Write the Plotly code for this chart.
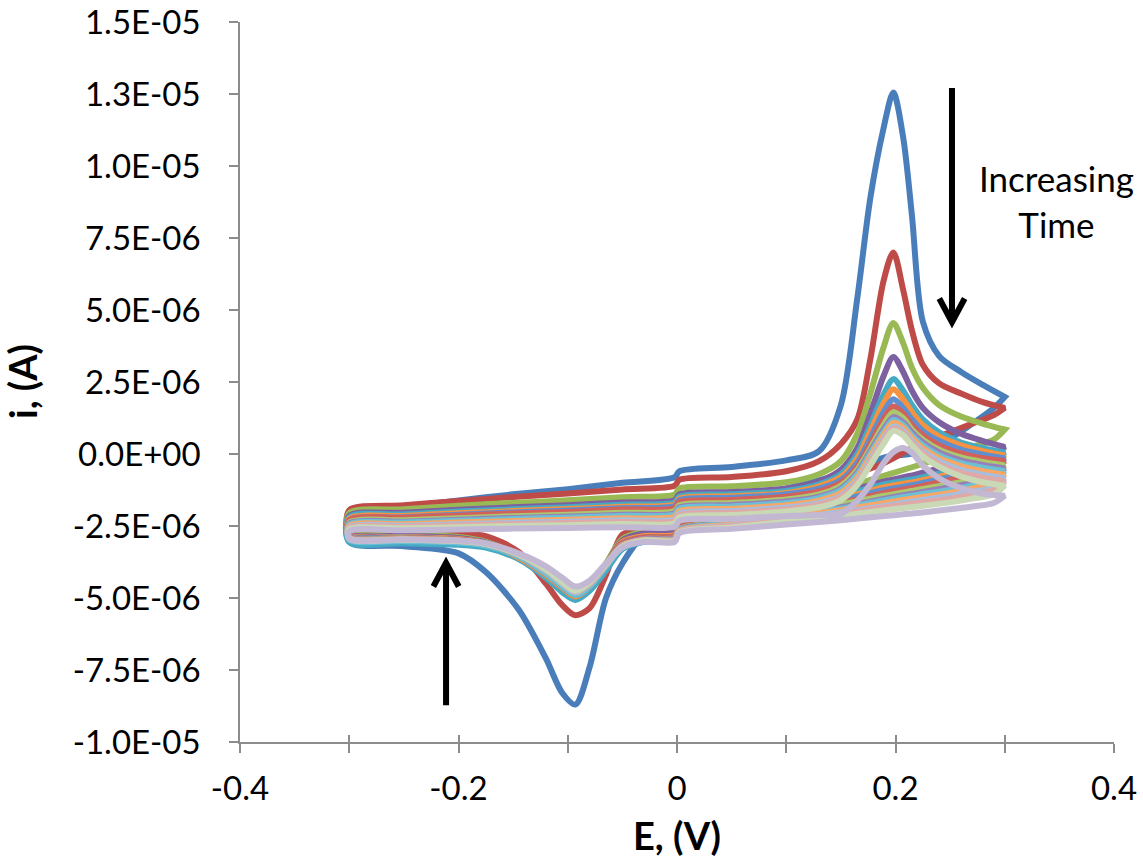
import plotly.graph_objects as go

# ---------------------------------------------------------------------------
# Cyclic voltammograms: potential grids (V) and currents (uA) for each cycle
# ---------------------------------------------------------------------------
E_FWD = [-0.30, -0.25, -0.20, -0.15, -0.10, -0.05, -0.002, 0.002, 0.05, 0.10, 0.13,
         0.15, 0.165, 0.177, 0.189, 0.198, 0.207, 0.215, 0.225, 0.24, 0.26, 0.28, 0.30]
E_REV = [0.30, 0.29, 0.27, 0.25, 0.22, 0.19, 0.15, 0.10, 0.05, 0.002, -0.002, -0.03,
         -0.05, -0.065, -0.08, -0.093, -0.105, -0.12, -0.145, -0.175, -0.20, -0.25, -0.30]

cycle01_fwd = [-2.1, -1.84, -1.61, -1.4, -1.22, -1.0, -0.8, -0.6, -0.45, -0.22, 0.1, 1.7,
               5.4, 8.9, 11.3, 12.55, 11.0, 8.3, 4.6, 3.4, 2.85, 2.4, 1.98]
cycle01_rev = [1.98, 1.6, 1.05, 0.55, 0.05, -0.12, -0.7, -1.2, -1.6, -1.95, -2.25, -2.8,
               -3.8, -5.0, -7.4, -8.7, -8.3, -7.1, -5.4, -4.1, -3.45, -3.2, -3.05]
cycle02_fwd = [-1.95, -1.78, -1.63, -1.49, -1.37, -1.23, -1.1, -0.9, -0.8, -0.6, -0.25, 0.35,
               1.2, 3.3, 6.0, 7.0, 5.7, 4.3, 3.1, 2.45, 2.1, 1.8, 1.6]
cycle02_rev = [1.6, 1.35, 1.05, 0.75, 0.3, -0.3, -0.85, -1.35, -1.75, -2.1, -2.4, -2.62,
               -2.8, -4.2, -5.35, -5.6, -5.25, -4.5, -3.4, -2.85, -2.78, -2.72, -2.65]
cycle03_fwd = [-2.05, -1.92, -1.8, -1.7, -1.61, -1.5, -1.4, -1.2, -1.12, -0.98, -0.7, -0.25,
               0.7, 2.1, 3.7, 4.55, 3.85, 3.0, 2.3, 1.7, 1.3, 1.05, 0.85]
cycle03_rev = [0.85, 0.5, 0.25, 0.0, -0.4, -0.75, -1.2, -1.6, -1.95, -2.3, -2.6, -2.7,
               -2.95, -3.8, -4.6, -5.0, -4.7, -4.2, -3.55, -3.05, -2.88, -2.8, -2.72]
cycle04_fwd = [-2.15, -2.04, -1.94, -1.85, -1.78, -1.68, -1.6, -1.4, -1.32, -1.2, -0.95, -0.55,
               0.2, 1.4, 2.7, 3.37, 2.85, 2.2, 1.6, 1.1, 0.7, 0.45, 0.25]
cycle04_rev = [0.25, -0.05, -0.25, -0.4, -0.7, -0.95, -1.35, -1.75, -2.1, -2.4, -2.7, -2.75,
               -3.0, -3.85, -4.6, -4.95, -4.65, -4.2, -3.55, -3.08, -2.92, -2.84, -2.76]
cycle05_fwd = [-2.2, -2.1, -2.0, -1.92, -1.85, -1.76, -1.68, -1.48, -1.4, -1.28, -1.05, -0.7,
               0.0, 1.0, 2.05, 2.6, 2.2, 1.7, 1.2, 0.75, 0.4, 0.2, 0.05]
cycle05_rev = [0.05, -0.25, -0.45, -0.6, -0.85, -1.05, -1.45, -1.85, -2.2, -2.5, -2.95, -3.05,
               -3.3, -4.05, -4.75, -5.07, -4.8, -4.3, -3.65, -3.25, -3.15, -3.1, -3.05]
cycle06_fwd = [-2.25, -2.15, -2.06, -1.98, -1.91, -1.83, -1.75, -1.55, -1.47, -1.35, -1.12, -0.8,
               -0.15, 0.8, 1.75, 2.25, 1.9, 1.45, 1.0, 0.6, 0.3, 0.1, -0.05]
cycle06_rev = [-0.05, -0.35, -0.55, -0.7, -0.95, -1.15, -1.55, -1.9, -2.2, -2.5, -2.8, -2.85,
               -3.05, -3.85, -4.6, -4.95, -4.65, -4.2, -3.6, -3.1, -2.95, -2.88, -2.8]
cycle07_fwd = [-2.3, -2.2, -2.11, -2.03, -1.96, -1.88, -1.8, -1.6, -1.52, -1.4, -1.2, -0.9,
               -0.3, 0.55, 1.45, 1.9, 1.6, 1.2, 0.8, 0.45, 0.15, -0.02, -0.15]
cycle07_rev = [-0.15, -0.45, -0.65, -0.8, -1.05, -1.25, -1.6, -1.95, -2.25, -2.55, -2.85, -2.9,
               -3.1, -3.85, -4.6, -4.9, -4.6, -4.15, -3.55, -3.12, -2.98, -2.9, -2.82]
cycle08_fwd = [-2.3, -2.21, -2.14, -2.07, -2.01, -1.93, -1.87, -1.67, -1.6, -1.48, -1.3, -1.0,
               -0.45, 0.35, 1.2, 1.65, 1.4, 1.0, 0.65, 0.3, 0.02, -0.15, -0.25]
cycle08_rev = [-0.25, -0.55, -0.75, -0.9, -1.15, -1.35, -1.7, -2.0, -2.3, -2.55, -2.85, -2.9,
               -3.1, -3.85, -4.58, -4.9, -4.6, -4.15, -3.55, -3.12, -2.98, -2.92, -2.85]
cycle09_fwd = [-2.38, -2.3, -2.23, -2.16, -2.11, -2.04, -1.98, -1.78, -1.7, -1.58, -1.4, -1.1,
               -0.55, 0.2, 1.0, 1.45, 1.25, 0.85, 0.5, 0.15, -0.12, -0.28, -0.4]
cycle09_rev = [-0.4, -0.7, -0.9, -1.05, -1.25, -1.45, -1.75, -2.05, -2.35, -2.6, -2.9, -2.95,
               -3.15, -3.85, -4.55, -4.85, -4.55, -4.1, -3.55, -3.13, -3.0, -2.93, -2.87]
cycle10_fwd = [-2.42, -2.35, -2.28, -2.22, -2.17, -2.11, -2.05, -1.85, -1.77, -1.65, -1.48, -1.2,
               -0.65, 0.1, 0.85, 1.28, 1.1, 0.75, 0.4, 0.05, -0.22, -0.38, -0.5]
cycle10_rev = [-0.5, -0.8, -1.0, -1.15, -1.35, -1.55, -1.85, -2.1, -2.38, -2.62, -2.92, -2.95,
               -3.15, -3.85, -4.55, -4.85, -4.55, -4.1, -3.52, -3.12, -3.0, -2.94, -2.88]
cycle11_fwd = [-2.45, -2.38, -2.32, -2.26, -2.21, -2.15, -2.1, -1.9, -1.82, -1.7, -1.53, -1.25,
               -0.72, 0.02, 0.75, 1.18, 1.0, 0.65, 0.3, -0.05, -0.32, -0.48, -0.6]
cycle11_rev = [-0.6, -0.9, -1.1, -1.25, -1.42, -1.6, -1.9, -2.15, -2.4, -2.65, -2.95, -3.0,
               -3.2, -3.9, -4.6, -4.9, -4.6, -4.15, -3.55, -3.18, -3.08, -3.02, -2.97]
cycle12_fwd = [-2.5, -2.44, -2.38, -2.33, -2.28, -2.23, -2.18, -1.98, -1.9, -1.78, -1.62, -1.35,
               -0.82, -0.08, 0.65, 1.08, 0.92, 0.55, 0.2, -0.15, -0.42, -0.6, -0.72]
cycle12_rev = [-0.72, -1.0, -1.2, -1.35, -1.52, -1.7, -1.95, -2.2, -2.45, -2.67, -2.97, -2.98,
               -3.18, -3.85, -4.52, -4.8, -4.5, -4.05, -3.5, -3.12, -3.0, -2.95, -2.9]
cycle13_fwd = [-2.55, -2.49, -2.44, -2.39, -2.35, -2.3, -2.26, -2.06, -1.98, -1.86, -1.7, -1.45,
               -0.92, -0.2, 0.52, 0.95, 0.8, 0.45, 0.1, -0.25, -0.55, -0.72, -0.85]
cycle13_rev = [-0.85, -1.15, -1.32, -1.45, -1.62, -1.8, -2.02, -2.25, -2.48, -2.7, -3.0, -3.0,
               -3.2, -3.85, -4.5, -4.8, -4.5, -4.05, -3.5, -3.12, -3.02, -2.97, -2.92]
cycle14_fwd = [-2.58, -2.53, -2.48, -2.44, -2.4, -2.36, -2.32, -2.12, -2.04, -1.92, -1.76, -1.5,
               -0.98, -0.28, 0.45, 0.88, 0.72, 0.38, 0.02, -0.35, -0.65, -0.82, -0.95]
cycle14_rev = [-0.95, -1.25, -1.42, -1.55, -1.7, -1.85, -2.08, -2.3, -2.5, -2.7, -3.0, -3.0,
               -3.2, -3.85, -4.48, -4.75, -4.45, -4.02, -3.48, -3.12, -3.02, -2.97, -2.93]
cycle15_fwd = [-2.62, -2.58, -2.54, -2.5, -2.47, -2.43, -2.4, -2.2, -2.12, -2.0, -1.85, -1.6,
               -1.08, -0.38, 0.35, 0.8, 0.65, 0.3, -0.08, -0.45, -0.78, -0.98, -1.1]
cycle15_rev = [-1.1, -1.4, -1.55, -1.68, -1.82, -1.95, -2.15, -2.35, -2.55, -2.72, -3.02, -3.0,
               -3.22, -3.82, -4.45, -4.75, -4.45, -4.0, -3.48, -3.12, -3.02, -2.98, -2.94]
cycle16_fwd = [-2.68, -2.65, -2.62, -2.59, -2.57, -2.54, -2.52, -2.32, -2.25, -2.15, -2.12, -2.08,
               -1.62, -1.05, -0.32, 0.07, 0.21, 0.05, -0.4, -0.85, -1.18, -1.38, -1.45]
cycle16_rev = [-1.45, -1.7, -1.82, -1.92, -2.05, -2.15, -2.3, -2.45, -2.6, -2.75, -3.05, -3.05,
               -3.25, -3.8, -4.4, -4.6, -4.3, -3.9, -3.45, -3.1, -3.0, -2.97, -2.95]

CYCLES = [
    (cycle01_fwd, cycle01_rev), (cycle02_fwd, cycle02_rev), (cycle03_fwd, cycle03_rev),
    (cycle04_fwd, cycle04_rev), (cycle05_fwd, cycle05_rev), (cycle06_fwd, cycle06_rev),
    (cycle07_fwd, cycle07_rev), (cycle08_fwd, cycle08_rev), (cycle09_fwd, cycle09_rev),
    (cycle10_fwd, cycle10_rev), (cycle11_fwd, cycle11_rev), (cycle12_fwd, cycle12_rev),
    (cycle13_fwd, cycle13_rev), (cycle14_fwd, cycle14_rev), (cycle15_fwd, cycle15_rev),
    (cycle16_fwd, cycle16_rev),
]

# Axis ticks
X_TICKS = [-0.4, -0.2, 0.0, 0.2, 0.4]
X_TICK_TEXT = ["-0.4", "-0.2", "0", "0.2", "0.4"]
X_MINOR_TICKS = [-0.4, -0.3, -0.2, -0.1, 0.0, 0.1, 0.2, 0.3, 0.4]
Y_TICKS = [-1.0e-05, -7.5e-06, -5.0e-06, -2.5e-06, 0.0, 2.5e-06, 5.0e-06, 7.5e-06,
           1.0e-05, 1.25e-05, 1.5e-05]
Y_TICK_TEXT = ["-1.0E-05", "-7.5E-06", "-5.0E-06", "-2.5E-06", "0.0E+00", "2.5E-06",
               "5.0E-06", "7.5E-06", "1.0E-05", "1.3E-05", "1.5E-05"]

# ---------------------------------------------------------------------------
# Styling
# ---------------------------------------------------------------------------
COLORS = ["#4A7EBB", "#BE4B48", "#98B954", "#7D60A0", "#46AAC5", "#F69240",
          "#5F8FCE", "#D2605B", "#ABC86E", "#9780B8", "#6CC0D6", "#F8A766",
          "#A7BFDF", "#DFA9A7", "#C9D9B5", "#C2B8D4"]
FONT = "Lato, 'Open Sans', sans-serif"
AXIS_GREY = "#8C8C8C"
UA = 1e-6  # microamp -> amp

fig = go.Figure()
for (fwd, rev), color in zip(CYCLES, COLORS):
    xs = E_FWD + E_REV + [E_FWD[0]]
    ys = [v * UA for v in fwd + rev + [fwd[0]]]
    fig.add_trace(go.Scatter(
        x=xs, y=ys, mode="lines",
        line=dict(color=color, width=6, shape="spline", smoothing=0.85),
        showlegend=False, hoverinfo="skip",
    ))

# invisible trace carrying the upper half of the crossing x ticks
fig.add_trace(go.Scatter(x=[None], y=[None], xaxis="x2", showlegend=False))


def arrow_shapes(x, y_tail, y_tip, arm_dx, arm_dy):
    """Line shapes for a thick vertical arrow with an open chevron head."""
    sgn = 1 if y_tip > y_tail else -1
    style = dict(color="black", width=6)
    path = (f"M {x - arm_dx:.6f},{y_tip - sgn * arm_dy:.12f} "
            f"L {x:.6f},{y_tip:.12f} "
            f"L {x + arm_dx:.6f},{y_tip - sgn * arm_dy:.12f}")
    return [
        dict(type="line", xref="x", yref="y", x0=x, x1=x, y0=y_tail,
             y1=y_tip - sgn * 0.15 * UA, line=style),
        dict(type="path", xref="x", yref="y", path=path, line=style),
    ]


shapes = []
shapes += arrow_shapes(0.2517, 12.71 * UA, 4.58 * UA, 0.0116, 0.82 * UA)
shapes += arrow_shapes(-0.2114, -8.72 * UA, -3.78 * UA, 0.0116, 0.82 * UA)

fig.update_layout(
    width=1143, height=862,
    margin=dict(l=240, r=29, t=22, b=120),
    paper_bgcolor="white", plot_bgcolor="white",
    font=dict(family=FONT, color="black"),
    showlegend=False,
    shapes=shapes,
    xaxis=dict(
        range=[-0.4, 0.4], tickvals=X_TICKS, ticktext=X_TICK_TEXT,
        ticks="outside", ticklen=9, tickwidth=1.5, tickcolor=AXIS_GREY,
        minor=dict(tickvals=X_MINOR_TICKS, ticks="outside", ticklen=9,
                   tickwidth=1.5, tickcolor=AXIS_GREY),
        showline=True, linecolor=AXIS_GREY, linewidth=1.5,
        showgrid=False, zeroline=False, automargin=False,
        tickfont=dict(family=FONT, size=33, color="black"),
        ticklabelstandoff=8,
    ),
    xaxis2=dict(
        range=[-0.4, 0.4], overlaying="x", anchor="y", side="bottom",
        tickvals=X_MINOR_TICKS, ticks="inside", ticklen=7, tickwidth=1.5,
        tickcolor=AXIS_GREY, showticklabels=False, showline=False,
        showgrid=False, zeroline=False, automargin=False,
    ),
    yaxis=dict(
        range=[-1.0e-05, 1.5e-05], tickvals=Y_TICKS, ticktext=Y_TICK_TEXT,
        ticks="outside", ticklen=9, tickwidth=1.5, tickcolor=AXIS_GREY,
        showline=True, linecolor=AXIS_GREY, linewidth=1.5,
        showgrid=False, zeroline=False, automargin=False,
        tickfont=dict(family=FONT, size=33, color="black"),
        ticklabelstandoff=22,
    ),
    annotations=[
        dict(text="<b>E, (V)</b>", xref="paper", yref="paper", x=0.5, y=0,
             xanchor="center", yanchor="middle", yshift=-93, showarrow=False,
             font=dict(family=FONT, size=38, color="black")),
        dict(text="<b>i, (A)</b>", xref="paper", yref="paper", x=0, y=0.5,
             xanchor="center", yanchor="middle", xshift=-218, textangle=-90,
             showarrow=False, font=dict(family=FONT, size=38, color="black")),
        dict(text="Increasing<br>Time", xref="x", yref="y", x=0.347, y=8.8 * UA,
             xanchor="center", yanchor="middle", showarrow=False,
             font=dict(family=FONT, size=35, color="black")),
    ],
)

fig.write_html("out.html")
